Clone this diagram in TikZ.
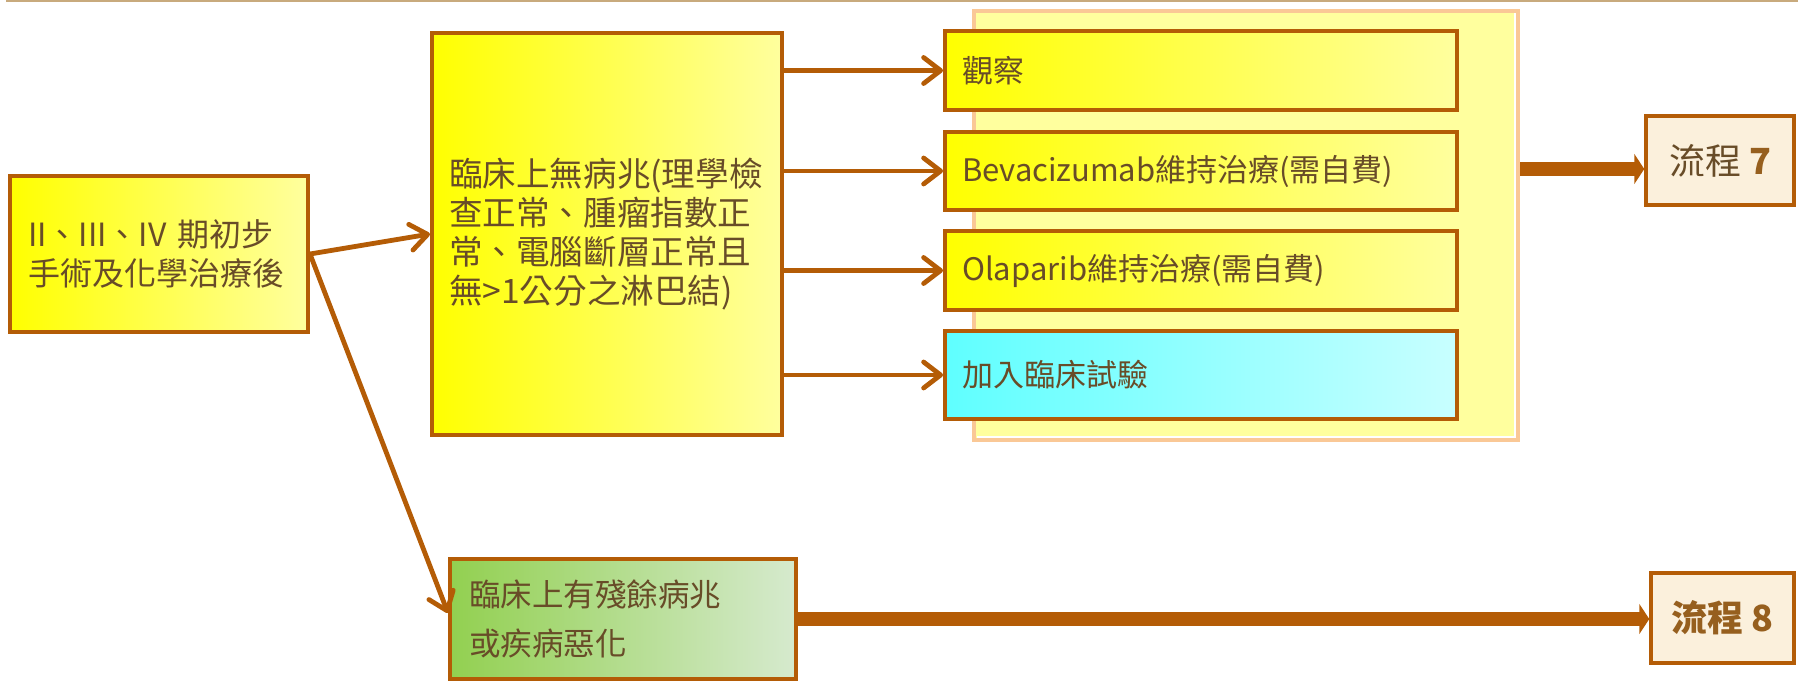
\documentclass[tikz,border=0pt]{standalone}
\usepackage{fontspec}
\setmainfont{Noto Sans CJK TC}
\usetikzlibrary{arrows.meta}
\definecolor{brd}{RGB}{180,92,6}
\definecolor{txt}{RGB}{104,76,40}
\definecolor{ylw}{RGB}{255,255,0}
\definecolor{lylw}{RGB}{255,255,158}
\definecolor{peach}{RGB}{250,200,150}
\definecolor{cyanL}{RGB}{95,255,255}
\definecolor{cyanR}{RGB}{200,255,255}
\definecolor{grnL}{RGB}{146,208,80}
\definecolor{grnR}{RGB}{214,234,206}
\definecolor{parch}{RGB}{251,240,220}
\definecolor{topln}{RGB}{200,170,125}
\definecolor{goldtxt}{RGB}{150,95,30}
\begin{document}
\begin{tikzpicture}[x=1pt,y=-1pt,
  box/.style={draw=brd, line width=4pt, rectangle, inner ysep=0pt, align=left, text=txt,
    font=\fontsize{31}{38.5}\selectfont},
  ybox/.style={box, left color=ylw, right color=lylw},
  pbox/.style={draw=brd, line width=3.5pt, rectangle, fill=parch, align=center, text=txt,
    font=\fontsize{36}{40}\selectfont, inner sep=0pt},
  thinarr/.style={draw=brd, line width=4.8pt, line cap=round,
    -{Straight Barb[length=17pt,width=26pt,round]}},
  thickarr/.style={draw=brd, line width=14pt,
    -{Triangle[length=10pt,width=30pt]}}
]
\useasboundingbox (0,0) rectangle (1798,683);
\draw[topln, line width=1.6pt] (6,0.8) -- (1798,0.8);

% group container
\node[draw=peach, line width=4pt, fill=lylw, minimum width=544pt, minimum height=429pt, inner sep=0pt] (grp) at (1246,225.5) {};
\draw[white, line width=1.5pt] (977,437) -- (1515,437) -- (1515,13);

% boxes
\node[ybox, minimum width=298pt, minimum height=156pt, text width=262pt, inner xsep=18pt,
  font=\fontsize{32}{38.5}\selectfont] (A) at (159,254)
  {II、III、IV 期初步\\手術及化學治療後};
\node[ybox, minimum width=350pt, minimum height=402pt, text width=316pt, inner xsep=17pt,
  font=\fontsize{33.6}{39}\selectfont] (B) at (607,234)
  {臨床上無病兆(理學檢\\查正常、腫瘤指數正\\常、電腦斷層正常且\\無>1公分之淋巴結)};

\node[ybox, minimum width=512pt, minimum height=79pt, text width=478pt, inner xsep=17pt] (C1) at (1201,70.5) {觀察};
\node[ybox, minimum width=512pt, minimum height=78pt, text width=478pt, inner xsep=17pt] (C2) at (1201,171) {Bevacizumab維持治療(需自費)};
\node[ybox, minimum width=512pt, minimum height=79pt, text width=478pt, inner xsep=17pt] (C3) at (1201,270.5) {Olaparib維持治療(需自費)};
\node[box, left color=cyanL, right color=cyanR, minimum width=512pt, minimum height=88pt, text width=478pt, inner xsep=17pt] (C4) at (1201,375) {加入臨床試驗};

\node[box, left color=grnL, right color=grnR, minimum width=346pt, minimum height=120pt, text width=308pt, inner xsep=19pt,
  font=\fontsize{31.5}{49}\selectfont] (D) at (623,619)
  {臨床上有殘餘病兆\\或疾病惡化};

\node[pbox, minimum width=148pt, minimum height=89pt] (P7) at (1720,160.5) {流程 \textcolor{goldtxt}{\bfseries 7}};
\node[pbox, minimum width=143pt, minimum height=90pt, text=goldtxt] (P8) at (1722.5,618) {\bfseries 流程 8};

% connectors
\draw[thinarr] (A.east) -- (B.west);
\draw[thinarr] (A.east) -- ([yshift=6pt]D.west);
\draw[thinarr] (B.east |- C1.west) -- (C1.west);
\draw[thinarr] (B.east |- C2.west) -- (C2.west);
\draw[thinarr] (B.east |- C3.west) -- (C3.west);
\draw[thinarr] (B.east |- C4.west) -- (C4.west);

\coordinate (t7) at ([yshift=-8.5pt]P7.west);
\draw[thickarr] (grp.east |- t7) -- (t7);
\draw[thickarr] (D.east) -- (P8.west |- D.east);
\end{tikzpicture}
\end{document}
